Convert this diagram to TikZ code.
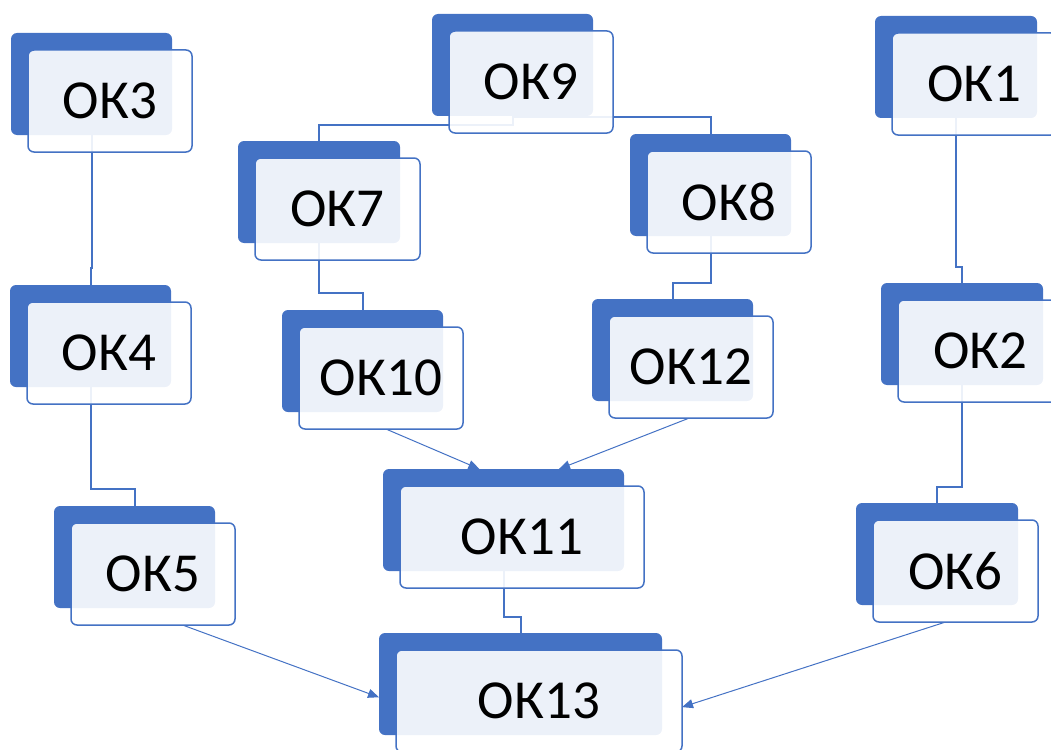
\documentclass[tikz,border=0pt]{standalone}
\usepackage{fontspec}
\setmainfont{Carlito}
\usetikzlibrary{arrows.meta,calc}
\definecolor{okblue}{HTML}{4472C4}
\pgfdeclarelayer{backl}
\pgfdeclarelayer{linel}
\pgfsetlayers{backl,linel,main}
\tikzset{
 backbox/.style={fill=okblue, rounded corners=6pt, anchor=north west, minimum height=102pt, inner sep=0pt, outer sep=0pt},
 frontbox/.style={draw=okblue, line width=1.5pt, fill=white, fill opacity=0.9, text opacity=1, rounded corners=6pt, anchor=north west, minimum height=102pt, inner sep=0pt, outer sep=0pt, font=\fontsize{55}{60}\selectfont},
 elbow/.style={draw=okblue, line width=2pt},
 flow/.style={draw=okblue, line width=1pt, -{Triangle[length=11pt,width=9pt]}},
}
% name, x, y, width, text
\newcommand\oknode[5]{%
 \begin{pgfonlayer}{backl}\node[backbox, minimum width=#4pt] (#1b) at (#2,#3) {};\end{pgfonlayer}
 \node[frontbox, minimum width=#4pt+3pt] (#1) at (#2+17,#3+17) {#5};}
\begin{document}
\begin{tikzpicture}[x=1pt,y=-1pt]
\useasboundingbox (0,0) rectangle (1051,749);
\oknode{ok3}{11}{33}{161}{ОК3}
\oknode{ok4}{10}{285}{161}{ОК4}
\oknode{ok5}{54}{506}{161}{ОК5}
\oknode{ok9}{432}{14}{161}{ОК9}
\oknode{ok7}{238}{141}{162}{ОК7}
\oknode{ok10}{282}{310}{161}{ОК10}
\oknode{ok8}{630}{134}{161}{ОК8}
\oknode{ok12}{592}{299}{161}{ОК12}
\oknode{ok11}{383}{469}{241}{ОК11}
\oknode{ok13}{379}{633}{283}{ОК13}
\oknode{ok1}{875}{16}{162}{ОК1}
\oknode{ok2}{881}{283}{162}{ОК2}
\oknode{ok6}{856}{503}{162}{ОК6}
\begin{pgfonlayer}{linel}
\draw[elbow] (ok3b.south) |- ([yshift=17pt]ok4b.north) -- (ok4b.north);
\draw[elbow] (ok4b.south) |- ([yshift=17pt]ok5b.north) -- (ok5b.north);
\draw[elbow] (ok9b.south) |- ([yshift=16pt]ok7b.north) -- (ok7b.north);
\draw[elbow] (ok9b.south) |- ([yshift=17pt]ok8b.north) -- (ok8b.north);
\draw[elbow] (ok7b.south) |- ([yshift=17pt]ok10b.north) -- (ok10b.north);
\draw[elbow] (ok8b.south) |- ([yshift=16pt]ok12b.north) -- (ok12b.north);
\draw[elbow] (ok11b.south) |- ([yshift=16pt]ok13b.north) -- (ok13b.north);
\draw[elbow] (ok1b.south) |- ([yshift=16pt]ok2b.north) -- (ok2b.north);
\draw[elbow] (ok2b.south) |- ([yshift=16pt]ok6b.north) -- (ok6b.north);
\draw[flow] ($(ok10.south west)!0.53!(ok10.south east)$) -- ($(ok11b.north west)!0.40!(ok11b.north east)$);
\draw[flow] ($(ok12.south west)!0.49!(ok12.south east)$) -- ($(ok11b.north west)!0.73!(ok11b.north east)$);
\draw[flow] ($(ok5.south west)!0.68!(ok5.south east)$) -- ($(ok13b.north west)!0.63!(ok13b.south west)$);
\draw[flow] ($(ok6.south west)!0.44!(ok6.south east)$) -- ($(ok13.north east)!0.56!(ok13.south east)$);
\end{pgfonlayer}
\end{tikzpicture}
\end{document}
